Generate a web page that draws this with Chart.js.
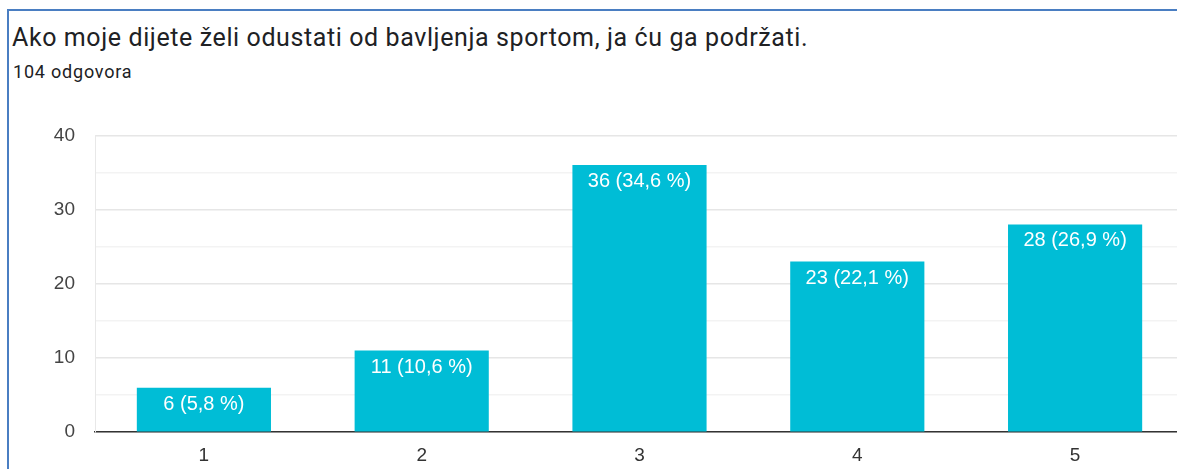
<!DOCTYPE html>
<html>
<head>
<meta charset="utf-8">
<script src="https://cdn.jsdelivr.net/npm/chart.js@4.4.1/dist/chart.umd.min.js"></script>
<style>
    html, body { margin: 0; padding: 0; background: #fff; overflow: hidden; width: 1177px; height: 469px; }
    #frame {
        position: absolute; left: 7px; top: 9px; width: 1200px; height: 500px;
        border-left: 2px solid #4a7ec2; border-top: 2px solid #4a7ec2;
    }
    #title {
        position: absolute; left: 12px; top: 23px; font-family: Roboto, sans-serif;
        font-size: 25px; letter-spacing: 0.6px; color: #202124; white-space: nowrap;
    }
    #subtitle {
        position: absolute; left: 13px; top: 61px; font-family: Roboto, sans-serif;
        font-size: 18px; letter-spacing: 0.8px; color: #202124; white-space: nowrap;
    }
    #chartBox { position: absolute; left: 0; top: 104px; }
</style>
</head>
<body>
<div id="frame"></div>
<div id="title">Ako moje dijete želi odustati od bavljenja sportom, ja ću ga podržati.</div>
<div id="subtitle">104 odgovora</div>
<div id="chartBox"><canvas id="barChart" width="1184" height="375"></canvas></div>
<script>
// Answers on the 1-5 scale
const categories = ['1', '2', '3', '4', '5'];
const counts = [6, 11, 36, 23, 28];
const percents = ['5,8', '10,6', '34,6', '22,1', '26,9'];
const yTicks = [0, 10, 20, 30, 40];

// white "n (p %)" labels inside the top of each bar
const barLabels = {
    id: 'barLabels',
    afterDatasetsDraw(chart) {
        const ctx = chart.ctx;
        const meta = chart.getDatasetMeta(0);
        ctx.save();
        ctx.fillStyle = '#ffffff';
        ctx.font = '20px "Liberation Sans", Arial, sans-serif';
        ctx.textAlign = 'center';
        ctx.textBaseline = 'alphabetic';
        meta.data.forEach((bar, i) => {
            ctx.fillText(`${counts[i]} (${percents[i]} %)`, bar.x, bar.y + 22);
        });
        ctx.restore();
    }
};

const ctx = document.getElementById('barChart').getContext('2d');
new Chart(ctx, {
    type: 'bar',
    data: {
        labels: categories,
        datasets: [{
            data: counts,
            backgroundColor: '#00bdd6',
            categoryPercentage: 1,
            barPercentage: 0.616
        }]
    },
    options: {
        responsive: false,
        animation: false,
        layout: { padding: { top: 10, right: 0, left: 0, bottom: 0 } },
        plugins: {
            legend: { display: false },
            tooltip: { enabled: false }
        },
        scales: {
            x: {
                grid: { display: false, drawTicks: false },
                border: { display: true, color: '#333333', width: 1.5 },
                ticks: {
                    padding: 12,
                    color: '#333333',
                    font: { family: '"Liberation Sans", Arial, sans-serif', size: 19 }
                }
            },
            y: {
                min: 0,
                max: 40,
                afterFit(scale) { scale.width = 95; },
                border: { display: true, color: '#e8e8e8' },
                grid: {
                    drawTicks: false,
                    color: c => (c.tick && c.tick.value % 10 === 0) ? '#e6e6e6' : '#f3f3f3',
                    lineWidth: 1.5
                },
                ticks: {
                    stepSize: 5,
                    padding: 20,
                    color: '#444444',
                    font: { family: '"Liberation Sans", Arial, sans-serif', size: 19 },
                    callback: v => yTicks.includes(v) ? String(v) : ''
                }
            }
        }
    },
    plugins: [barLabels]
});
</script>
</body>
</html>
